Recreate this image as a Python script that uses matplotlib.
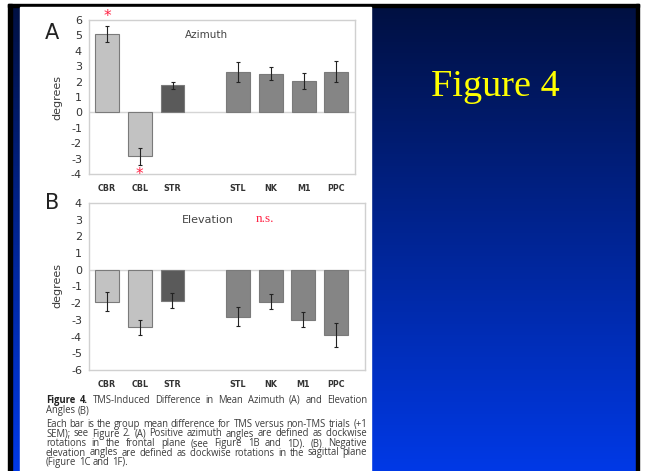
import numpy as np
import matplotlib
matplotlib.use("Agg")
import matplotlib.pyplot as plt
from matplotlib.patches import Rectangle

# ---------------- data ----------------
categories = ["CBR", "CBL", "STR", "STL", "NK", "M1", "PPC"]
azimuth_mean = [5.1, -2.85, 1.75, 2.6, 2.5, 2.05, 2.65]
azimuth_sem = [0.5, 0.55, 0.25, 0.65, 0.42, 0.52, 0.68]
elevation_mean = [-1.9, -3.45, -1.85, -2.8, -1.9, -3.0, -3.9]
elevation_sem = [0.55, 0.47, 0.45, 0.55, 0.45, 0.45, 0.7]
azimuth_ticks = [6, 5, 4, 3, 2, 1, 0, -1, -2, -3, -4]
elevation_ticks = [4, 3, 2, 1, 0, -1, -2, -3, -4, -5, -6]
caption_lines = [
    "TMS-Induced Difference in Mean Azimuth (A) and Elevation",
    "Angles (B)",
    "Each bar is the group mean difference for TMS versus non-TMS trials (+1",
    "SEM); see Figure 2. (A) Positive azimuth angles are defined as clockwise",
    "rotations in the frontal plane (see Figure 1B and 1D). (B) Negative",
    "elevation angles are defined as clockwise rotations in the sagittal plane",
    "(Figure 1C and 1F).",
]

W, H = 645, 471
fig = plt.figure(figsize=(W / 100, H / 100), dpi=100)
fig.patch.set_facecolor("white")

bg = fig.add_axes([0, 0, 1, 1])
bg.set_xlim(0, W)
bg.set_ylim(H, 0)
bg.axis("off")

# blue gradient slide background
top = np.array([0x00, 0x10, 0x42]) / 255
bot = np.array([0x00, 0x39, 0xe6]) / 255
t = np.linspace(0, 1, 256)[:, None]
grad = (top[None, :] * (1 - t) + bot[None, :] * t)[:, None, :]
bg.imshow(grad, extent=(12, 636, H, 7), aspect="auto", origin="upper", zorder=0)
bg.add_patch(Rectangle((8, 4), 631, 3, color="black", zorder=1))
bg.add_patch(Rectangle((8, 4), 4, H, color="black", zorder=1))
bg.add_patch(Rectangle((636, 4), 3, H, color="black", zorder=1))
bg.add_patch(Rectangle((20, 7), 351, H, color="white", zorder=1))


def ax_px(x0, y0, x1, y1):
    return fig.add_axes([x0 / W, 1 - y1 / H, (x1 - x0) / W, (y1 - y0) / H])


positions = [i + (1 if i >= 3 else 0) for i in range(len(categories))]
colors = ["#c2c2c2", "#c2c2c2", "#5a5a5a", "#858585", "#858585", "#858585", "#858585"]


def panel(ax, means, sems, ticks, xmax):
    ax.set_facecolor("white")
    ax.axhline(0, color="#d5d5d5", lw=1, zorder=1)
    ax.bar(positions, means, width=0.73, color=colors, edgecolor="#7a7a7a",
           linewidth=0.8, zorder=2)
    ax.errorbar(positions, means, yerr=sems, fmt="none", ecolor="#222222",
                elinewidth=0.8, capsize=1.2, capthick=0.8, zorder=3)
    ax.set_xlim(-0.55, xmax)
    ax.set_ylim(min(ticks), max(ticks))
    ax.set_yticks(ticks)
    ax.set_yticklabels([str(v) for v in ticks], fontsize=8, color="#333333")
    ax.set_xticks(positions)
    ax.set_xticklabels(categories, fontsize=5.8, fontweight="bold", color="#333333")
    ax.tick_params(axis="both", length=0)
    ax.tick_params(axis="y", pad=5)
    ax.tick_params(axis="x", pad=7)
    for s in ax.spines.values():
        s.set_color("#d0d0d0")
        s.set_linewidth(1)


axA = ax_px(89, 20, 355, 174)
panel(axA, azimuth_mean, azimuth_sem, azimuth_ticks, 7.57)
axA.text(0.44, 0.9, "Azimuth", transform=axA.transAxes, fontsize=7.5,
         color="#444444", ha="center", va="center")

axB = ax_px(89, 203, 365, 370)
panel(axB, elevation_mean, elevation_sem, elevation_ticks, 7.88)
axB.text(0.43, 0.9, "Elevation", transform=axB.transAxes, fontsize=8,
         color="#444444", ha="center", va="center")

# overlay for annotations on top of everything
ov = fig.add_axes([0, 0, 1, 1])
ov.set_xlim(0, W)
ov.set_ylim(H, 0)
ov.axis("off")
ov.patch.set_alpha(0)

ov.text(495, 87, "Figure 4", fontsize=27.5, family="Liberation Serif",
        color="#ffff00", ha="center", va="center")

ov.text(52, 33, "A", fontsize=15, ha="center", va="center", color="#222222")
ov.text(52, 203, "B", fontsize=15, ha="center", va="center", color="#222222")
ov.text(57, 97, "degrees", rotation=90, fontsize=8, ha="center", va="center",
        color="#3a3a3a")
ov.text(57, 285, "degrees", rotation=90, fontsize=8, ha="center", va="center",
        color="#3a3a3a")

red = "#ff2244"
ov.text(107, 17, "*", fontsize=11, color=red, ha="center", va="center")
ov.text(139, 174, "*", fontsize=11, color=red, ha="center", va="center")
ov.text(265, 219, "n.s.", fontsize=9.5, family="Liberation Serif", color=red,
        ha="center", va="center")

# caption (justified)
fig.canvas.draw()
renderer = fig.canvas.get_renderer()
cap_family = "Open Sans"
cap_color = "#3c3c3c"
x_left, x_right = 46, 367
baselines = [403, 413.5, 427, 436.5, 446, 455.5, 465]
justify = [True, False, True, True, True, True, False]


def text_width(s, fs, weight="normal"):
    tt = ov.text(0, 0, s, fontsize=fs, fontweight=weight, family=cap_family)
    bb = tt.get_window_extent(renderer)
    tt.remove()
    return bb.width


ref_line = caption_lines[5]
w1 = text_width(ref_line, 10)
cap_fs = 10 * (x_right - x_left) / w1 * 0.98

space_w = text_width("a b", cap_fs) - text_width("ab", cap_fs)
for i, (line, y) in enumerate(zip(caption_lines, baselines)):
    words = [(w, "normal") for w in line.split()]
    if i == 0:
        words = [("Figure", "bold"), ("4.", "bold")] + words
    widths = [text_width(w, cap_fs, wt) for w, wt in words]
    if justify[i] and len(words) > 1:
        gap = ((x_right - x_left) - sum(widths)) / (len(words) - 1)
    else:
        gap = space_w
    x = x_left
    for (w, wt), ww in zip(words, widths):
        ov.text(x, y, w, fontsize=cap_fs, fontweight=wt, family=cap_family,
                color="#222222" if wt == "bold" else cap_color,
                ha="left", va="baseline")
        x += ww + gap

fig.savefig("out.png", dpi=100, facecolor="white")
